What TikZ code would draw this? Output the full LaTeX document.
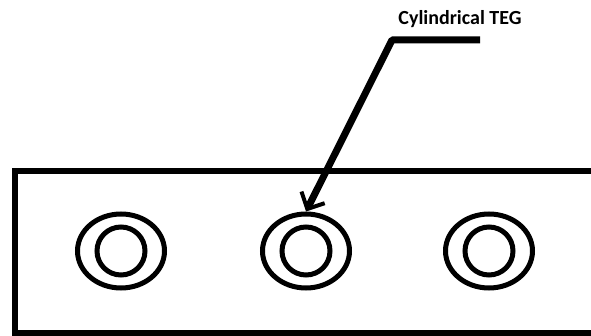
\documentclass[tikz,border=0pt]{standalone}
\usepackage{fontspec}
\setsansfont{Carlito}
\usetikzlibrary{shapes.geometric,arrows.meta}

\begin{document}
\begin{tikzpicture}[x=1pt,y=-1pt,
    outer/.style={draw,ellipse,line width=5pt,inner sep=0pt,minimum width=87pt,minimum height=74pt},
    inner/.style={draw,circle,line width=5pt,inner sep=0pt,minimum size=48pt}]
  \useasboundingbox (0,0) rectangle (591,336);

  % plate
  \draw[line width=6.5pt] (600,171) -- (15,171) -- (15,333) -- (600,333);

  % the three TEGs
  \node[outer] (teg1) at (121,251) {};
  \node[inner] (core1) at (121,251) {};
  \node[outer] (teg2) at (306,251) {};
  \node[inner] (core2) at (306,251) {};
  \node[outer] (teg3) at (489,251) {};
  \node[inner] (core3) at (489,251) {};

  % label and leader
  \node[font=\sffamily\bfseries\fontsize{20}{24}\selectfont,anchor=base,inner sep=0pt] (lbl) at (460,25) {Cylindrical TEG};
  \coordinate (bend) at (392,40);
  \coordinate (tail) at (480,40);
  \draw[line width=7pt,line join=round,-{Straight Barb[length=13pt,width=26pt,line width=4pt]}]
    (tail) -- (bend) -- (teg2.north);
\end{tikzpicture}
\end{document}
